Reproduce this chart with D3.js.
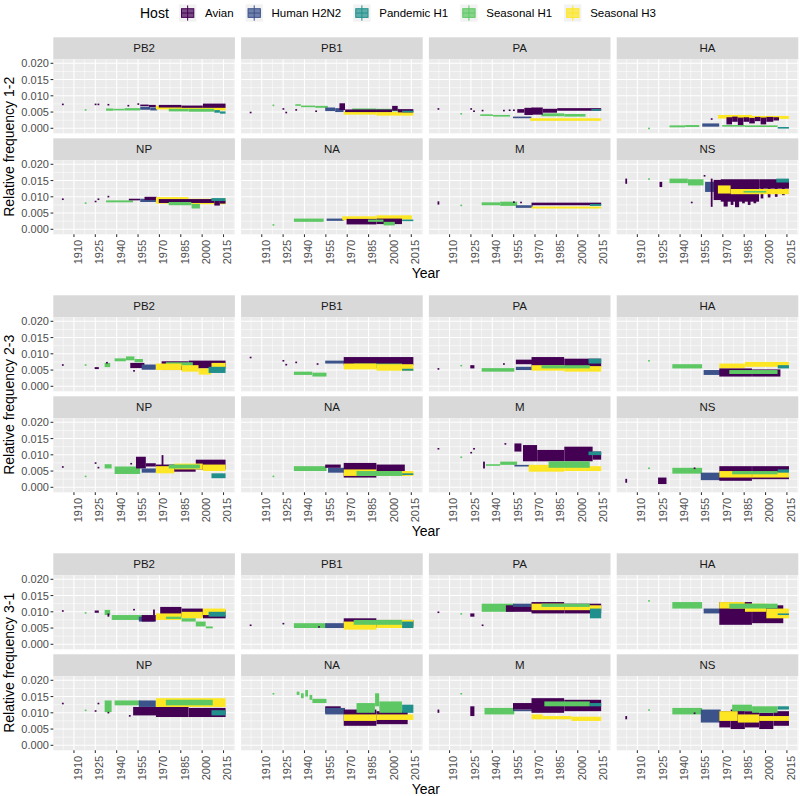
<!DOCTYPE html>
<html><head><meta charset="utf-8">
<script src="https://cdn.jsdelivr.net/npm/d3@7"></script>
<style>body{margin:0;background:#fff} text{font-family:"Liberation Sans", Arial, sans-serif}</style>
</head><body><svg id="c" width="800" height="796"></svg>
<script>
const hosts = ["Avian","Human H2N2","Pandemic H1","Seasonal H1","Seasonal H3"];
const hostColors = ["#440154","#3B528B","#21908C","#5DC863","#FDE725"];
const segments = ["PB2","PB1","PA","HA","NP","NA","M","NS"];
const groupLabels = ["1-2","2-3","3-1"];
const yearTicks = [1910,1925,1940,1955,1970,1985,2000,2015];
const freqTicks = [0,0.005,0.010,0.015,0.020];
const freqLabels = ["0.000","0.005","0.010","0.015","0.020"];

// runs: [hostIndex, firstYear, lastYear, low, high]  (relative frequency x 1e-3)
const PB2_12 = [[0,1902,1902,7.4,7.6],[0,1925,1925,7.4,7.6],[0,1927,1927,7.4,7.6],[0,1934,1934,7.3,7.5],[0,1948,1948,7.0,7.2],[0,1955,1955,7.5,7.7],
 [3,1918,1918,5.7,5.9],[3,1933,1937,5.4,6.1],[3,1938,1945,5.6,6.0],[3,1946,1956,5.5,6.2],
 [0,1957,1962,6.8,7.3],[0,1963,1967,6.5,7.2],[1,1957,1963,5.7,6.6],[1,1964,1968,5.5,6.4],
 [4,1968,1980,5.8,6.9],[4,1981,1995,5.6,6.8],[4,1996,2016,5.5,6.6],
 [0,1970,1985,6.4,7.2],[0,1986,2000,6.3,7.0],[0,2001,2016,6.3,7.6],
 [3,1977,1990,5.2,6.0],[3,1991,2008,5.1,6.0],[2,2009,2012,4.8,5.6],[2,2013,2016,4.5,5.2]];
const PB1_12 = [[0,1902,1902,4.9,5.1],[3,1918,1918,7.1,7.3],[0,1925,1925,6.0,6.2],[0,1927,1927,4.9,5.1],[0,1934,1934,5.7,5.9],
 [3,1934,1937,7.0,7.4],[3,1938,1947,6.5,7.0],[3,1948,1956,6.3,6.9],[0,1948,1948,5.3,5.5],
 [1,1955,1961,5.3,6.4],[1,1962,1967,5.0,6.2],[0,1965,1968,5.6,7.7],
 [4,1968,1990,4.2,5.2],[4,1991,2016,3.9,5.0],[3,1974,1990,5.3,6.1],[3,1991,2006,5.2,6.0],
 [0,1969,2001,5.0,5.8],[0,2002,2005,5.4,6.9],[0,2006,2016,4.9,5.9],[2,2009,2016,4.9,5.4]];
const PA_12 = [[0,1902,1902,6.0,6.2],[3,1918,1918,4.5,4.7],[0,1925,1925,6.0,6.2],[0,1927,1927,5.3,5.5],[0,1933,1933,5.5,5.7],
 [3,1932,1940,3.8,4.3],[3,1941,1952,3.6,4.1],[0,1948,1948,5.5,5.7],[0,1952,1952,5.6,5.8],[0,1955,1955,5.6,5.8],
 [1,1955,1967,3.1,3.6],[0,1958,1962,4.8,5.9],[0,1963,1968,4.1,6.3],[4,1967,2016,2.3,3.1],
 [3,1975,1990,3.7,4.6],[3,1991,2005,3.6,4.4],
 [0,1968,1975,4.2,6.4],[0,1976,1985,4.8,6.0],[0,1986,2016,5.4,6.2],[2,2010,2016,5.4,5.9]];
const HA_12 = [[3,1918,1918,0.0,0.2],[3,1933,1943,0.3,0.9],[3,1944,1953,0.4,1.0],[1,1956,1967,0.5,1.5],[0,1962,1962,2.9,3.1],
 [4,1967,1990,3.0,4.1],[4,1991,2016,2.9,3.8],
 [0,1973,1976,1.2,3.4],[0,1977,1980,2.0,3.6],[0,1981,1984,1.0,3.3],[0,1985,1988,2.0,3.4],[0,1989,1992,1.5,3.2],
 [0,1993,1996,2.2,3.5],[0,1997,2000,1.2,3.3],[0,2001,2005,2.0,3.5],[0,2006,2009,2.4,3.4],
 [3,1970,1985,0.5,1.0],[3,1986,2008,0.4,0.9],[2,2009,2016,0.1,0.4]];
const NP_12 = [[0,1902,1902,9.3,9.5],[3,1918,1918,8.1,8.3],[0,1925,1925,8.6,8.8],[0,1927,1927,9.3,9.5],[0,1934,1934,10.1,10.3],
 [3,1933,1951,8.3,8.9],[0,1949,1956,9.0,9.4],[1,1957,1968,8.4,9.4],[0,1960,1968,9.0,10.0],
 [4,1968,1990,7.9,9.9],[4,1991,2016,7.7,9.4],
 [0,1970,2008,8.1,9.3],[0,2009,2012,7.3,8.8],[0,2013,2016,7.9,8.8],
 [3,1977,1992,7.4,8.4],[3,1993,1998,6.4,7.8],[2,2007,2016,8.7,9.6]];
const NA_12 = [[3,1918,1918,1.4,1.6],[3,1933,1953,2.3,3.3],[1,1956,1967,2.6,3.3],
 [4,1967,1990,2.8,4.0],[4,1991,2015,3.0,4.3],[0,1970,1990,1.5,3.2],[0,1991,2008,1.6,3.3],
 [3,1985,1995,2.3,3.0],[3,1996,2003,1.2,2.3],[2,2009,2016,2.6,3.0]];
const M_12 = [[0,1902,1902,7.6,8.6],[3,1918,1918,7.4,7.6],[3,1933,1945,7.4,8.3],[3,1946,1957,7.2,8.5],[0,1955,1955,8.4,8.6],[0,1960,1960,8.3,8.5],
 [1,1957,1968,6.6,7.4],[0,1968,2016,7.4,8.2],[4,1968,2016,6.4,7.0],[2,2009,2016,7.2,7.8]];
const NS_12 = [[0,1902,1902,14.0,15.6],[3,1918,1918,15.5,15.7],[0,1926,1927,13.0,14.6],[3,1933,1945,14.2,15.6],[3,1946,1956,13.5,15.4],[0,1948,1948,8.3,8.5],[0,1957,1957,16.5,16.7],
 [1,1958,1967,11.5,14.6],[0,1962,1962,6.9,15.6],[0,1964,1969,9.0,15.2],[0,1969,1995,8.5,15.4],[0,1996,2016,12.5,15.4],
 [0,1971,1973,7.0,15.0],[0,1976,1977,7.5,15.0],[0,1979,1981,6.8,15.0],[0,1984,1985,8.0,15.0],[0,1988,1989,7.5,15.0],
 [0,1992,1993,8.0,15.0],[0,1997,1998,9.5,15.0],[0,2002,2003,9.8,15.0],[0,2007,2008,10.0,15.0],[0,2012,2013,10.5,15.0],
 [4,1967,1975,11.0,13.5],[4,1976,2016,10.8,12.4],[3,1985,2000,11.3,11.8],[2,2008,2016,14.4,15.6]];

const PB2_23 = [[0,1902,1902,6.6,6.8],[3,1918,1918,6.6,6.8],[0,1925,1927,5.3,5.9],[3,1932,1935,5.9,7.2],[0,1933,1933,7.3,7.5],
 [3,1939,1946,7.7,8.6],[3,1947,1952,8.0,9.2],[0,1952,1952,4.8,5.0],[3,1953,1958,7.4,8.4],[0,1950,1959,5.6,7.2],
 [1,1958,1967,5.1,6.7],[0,1972,1990,5.0,7.7],[0,1991,2016,5.5,7.9],[3,1975,1993,6.2,7.4],
 [4,1968,1985,5.0,7.0],[4,1986,1997,4.5,6.5],[4,1998,2006,3.6,5.5],[4,2007,2016,5.5,7.2],[2,2005,2016,4.1,6.0]];
const PB1_23 = [[0,1902,1902,8.9,9.1],[0,1925,1925,7.9,8.1],[0,1927,1927,6.7,6.9],[0,1934,1934,7.4,7.6],
 [3,1933,1945,3.5,4.5],[3,1946,1955,3.0,4.2],[0,1949,1949,6.9,7.1],[1,1955,1968,7.0,7.9],
 [0,1968,2016,6.5,9.0],[3,1975,2008,5.5,7.0],[4,1968,1990,5.2,7.0],[4,1991,2016,4.8,6.8],[2,2009,2016,4.8,5.4]];
const PA_23 = [[0,1902,1902,5.4,5.6],[3,1918,1918,6.4,6.6],[0,1925,1927,5.5,6.5],[3,1933,1955,4.5,5.6],[0,1948,1948,6.9,7.1],
 [1,1957,1968,5.0,6.0],[0,1957,1968,6.8,8.2],[0,1968,1990,6.0,9.0],[0,1991,2016,6.0,8.5],
 [4,1968,1990,4.8,6.5],[4,1991,2016,4.5,6.2],[3,1975,2008,5.5,6.5],[2,2008,2016,7.0,8.5]];
const HA_23 = [[3,1918,1918,7.9,8.1],[3,1935,1955,5.5,6.8],[1,1957,1968,3.5,5.0],
 [4,1968,1985,5.5,7.0],[4,1986,2016,6.0,7.5],[0,1968,1990,3.0,5.5],[0,1991,2010,3.0,5.2],
 [3,1975,2008,3.8,5.0],[2,2009,2016,5.5,6.5]];
const NP_23 = [[0,1902,1902,6.3,6.5],[3,1918,1918,3.4,3.6],[0,1925,1925,7.5,7.7],[0,1927,1927,6.1,6.3],[3,1932,1936,5.8,7.1],[3,1939,1956,4.1,6.4],[0,1950,1950,7.3,7.5],
 [0,1954,1960,5.8,9.4],[1,1958,1967,4.5,5.8],[0,1961,1967,6.4,7.4],[0,1972,1972,6.4,9.9],
 [0,1968,1995,4.8,7.0],[0,1996,2016,5.5,8.5],[4,1968,1980,4.3,6.5],[4,1981,2000,5.5,7.3],[4,2001,2016,5.0,7.0],
 [3,1977,1998,5.8,7.0],[2,2007,2016,2.8,4.3]];
const NA_23 = [[3,1918,1918,3.4,3.6],[3,1933,1955,5.0,6.5],[1,1957,1968,4.5,6.0],[0,1955,1965,6.0,7.0],
 [0,1968,1990,3.0,7.5],[0,1991,2010,3.5,7.0],[4,1968,1990,3.5,5.5],[4,1991,2016,3.5,5.0],
 [3,1977,2008,3.5,5.0],[2,2009,2016,3.8,4.3]];
const M_23 = [[0,1902,1902,11.9,12.1],[3,1918,1918,9.3,9.5],[0,1925,1925,10.7,10.9],[0,1927,1927,11.9,12.1],[0,1934,1934,5.8,7.9],[3,1936,1945,6.7,7.1],[3,1946,1957,6.9,7.9],
 [0,1949,1949,13.4,13.6],[0,1956,1960,11.0,13.5],[1,1956,1966,6.4,6.9],[0,1962,1971,8.0,13.0],
 [0,1972,1990,8.0,11.5],[0,1991,2010,8.0,12.5],[0,2011,2016,8.5,11.0],
 [4,1966,1990,4.8,6.9],[4,1991,2016,5.0,6.5],[3,1980,2008,6.0,8.0],[2,2008,2016,9.9,11.0]];
const NS_23 = [[0,1902,1902,1.4,2.6],[3,1918,1918,5.9,6.1],[0,1925,1930,1.0,3.0],[3,1935,1955,4.2,6.0],[0,1950,1950,5.9,6.1],
 [1,1955,1968,2.2,4.5],[0,1968,1990,2.0,6.5],[0,1991,2016,2.5,6.5],
 [4,1968,1990,3.0,5.0],[4,1991,2016,3.0,4.8],[3,1977,2008,4.0,5.0],[2,2009,2016,4.5,5.5]];

const PB2_31 = [[0,1902,1902,10.3,10.5],[3,1918,1918,9.7,9.9],[0,1925,1927,9.7,10.4],[3,1932,1935,9.0,10.6],[0,1934,1934,8.5,9.5],
 [3,1937,1958,7.5,9.0],[0,1952,1952,10.7,10.9],[1,1956,1966,7.0,8.5],[0,1958,1967,7.0,9.0],[0,1966,1966,9.0,10.7],
 [0,1971,1985,8.5,11.5],[0,1986,2000,8.5,11.0],[0,2001,2016,8.0,10.5],
 [4,1968,1985,7.5,9.5],[4,1986,2000,8.0,10.0],[4,2001,2016,9.0,11.0],
 [3,1975,1985,7.8,8.5],[3,1986,1995,7.0,8.0],[3,1996,2002,5.5,7.0],[3,2003,2007,4.9,5.5],[2,2005,2016,8.5,10.0]];
const PB1_31 = [[0,1902,1902,5.9,6.1],[0,1925,1925,6.4,6.6],[3,1933,1955,5.0,6.5],[0,1950,1950,5.4,5.6],
 [1,1955,1968,5.0,6.5],[0,1968,1990,5.0,8.0],[0,1991,2016,5.5,7.5],
 [4,1968,1990,4.5,7.0],[4,1991,2016,5.0,7.5],[3,1975,2008,6.0,7.5],[2,2009,2016,5.0,7.0]];
const PA_31 = [[0,1902,1902,9.9,10.1],[3,1918,1918,9.4,9.6],[0,1925,1927,8.5,9.5],[0,1933,1933,5.9,6.1],
 [3,1933,1955,10.0,12.5],[0,1950,1968,10.0,12.0],[1,1955,1968,11.5,12.5],
 [0,1968,1990,9.5,13.0],[0,1991,2016,9.5,12.5],[4,1968,1990,10.5,12.5],[4,1991,2016,10.5,12.0],
 [3,1975,2008,11.5,12.5],[2,2009,2016,8.0,11.0]];
const HA_31 = [[3,1918,1918,13.4,13.6],[3,1935,1955,11.0,13.0],[1,1957,1968,9.5,11.0],
 [0,1968,1990,6.0,13.0],[0,1991,2012,6.5,12.0],
 [4,1968,1985,11.0,13.0],[4,1986,2000,10.0,12.5],[4,2001,2016,8.0,11.0],
 [3,1975,2008,11.0,12.5],[2,2009,2016,9.0,9.5]];
const NP_31 = [[0,1902,1902,12.9,13.1],[3,1918,1918,10.8,11.0],[0,1925,1925,10.6,10.8],[0,1927,1927,12.9,13.1],[3,1932,1936,10.2,13.8],[0,1934,1934,10.1,10.3],
 [3,1939,1956,12.3,13.8],[0,1949,1949,9.1,9.3],[0,1952,1968,9.2,11.8],[1,1956,1967,11.8,13.8],
 [0,1968,1990,8.7,11.8],[0,1991,2016,8.7,11.5],[4,1968,2016,11.8,14.5],[3,1975,2007,12.3,14.0],[2,2007,2016,9.2,10.8]];
const NA_31 = [[3,1918,1918,15.9,16.1],[3,1935,1936,15.5,16.5],[3,1938,1939,14.5,16.0],[3,1941,1942,15.0,17.0],[3,1944,1945,14.0,15.5],[3,1946,1955,13.0,14.3],[0,1955,1965,10.0,12.0],
 [1,1955,1968,9.5,11.5],[0,1968,1990,6.0,11.0],[0,1991,2012,6.5,10.5],
 [4,1968,1990,7.5,9.5],[4,1991,2016,7.8,9.5],
 [3,1977,1989,10.0,13.0],[3,1990,1992,12.0,16.0],[3,1993,2008,10.0,13.5],[2,2009,2016,10.0,12.5]];
const M_31 = [[0,1902,1902,10.0,11.0],[3,1918,1918,15.9,16.1],[0,1925,1927,9.0,12.0],[3,1935,1955,9.5,11.5],
 [1,1955,1968,10.5,11.0],[0,1955,1968,11.0,13.0],[0,1968,1990,10.0,14.5],[0,1991,2016,10.5,14.0],
 [4,1968,1975,8.0,9.5],[4,1976,1995,8.0,9.0],[4,1996,2016,7.5,8.8],
 [3,1977,2008,12.0,13.5],[2,2009,2016,12.0,13.0]];
const NS_31 = [[0,1902,1902,8.0,9.0],[3,1918,1918,10.9,11.1],[3,1935,1955,9.5,11.5],[0,1950,1950,9.9,10.1],
 [1,1955,1968,7.0,11.0],[0,1968,1975,5.5,10.5],[0,1976,1985,5.0,11.0],[0,1986,1995,5.5,10.5],[0,1996,2005,5.0,10.0],[0,2006,2016,6.0,10.5],
 [4,1968,1980,7.5,10.5],[4,1981,1995,7.0,9.5],[4,1996,2016,7.5,9.0],
 [3,1977,1990,10.5,12.5],[3,1991,2008,10.0,12.0],[2,2009,2016,11.0,12.0]];

const groupData = [
  [PB2_12,PB1_12,PA_12,HA_12,NP_12,NA_12,M_12,NS_12],
  [PB2_23,PB1_23,PA_23,HA_23,NP_23,NA_23,M_23,NS_23],
  [PB2_31,PB1_31,PA_31,HA_31,NP_31,NA_31,M_31,NS_31]
];

// ---- layout ----
const svg = d3.select("#c");
const panelX0 = 53.3, colStep = 187.8, panelW = 181.6;
const stripH = 22, panelH = 74, rowGap = 5, groupStep = 258, groupTop0 = 37.3;
const x = d3.scaleLinear().domain([1895.5, 2023]).range([0, panelW]);
const y = d3.scaleLinear().domain([-0.001538, 0.021231]).range([panelH, 0]);
const xMinor = d3.range(1902.5, 2023, 15).filter(v => v > 1895.5 && v < 2023);
const yMinor = [0.0025, 0.0075, 0.0125, 0.0175];
const defs = svg.append("defs");
defs.append("clipPath").attr("id","pclip").append("rect").attr("width",panelW).attr("height",panelH);

groupData.forEach((segs, g) => {
  const gTop = groupTop0 + g*groupStep;
  segs.forEach((runs, si) => {
    const r = Math.floor(si/4), c = si % 4;
    const sx = panelX0 + c*colStep;
    const sTop = gTop + r*(stripH+panelH+rowGap);
    const pTop = sTop + stripH;
    svg.append("rect").attr("x",sx).attr("y",sTop).attr("width",panelW).attr("height",stripH).attr("fill","#d9d9d9");
    svg.append("text").attr("x",sx+panelW/2).attr("y",sTop+stripH/2).attr("dy","0.36em")
      .attr("text-anchor","middle").attr("font-size",11.5).attr("fill","#1a1a1a").text(segments[si]);
    const p = svg.append("g").attr("transform",`translate(${sx},${pTop})`);
    p.append("rect").attr("width",panelW).attr("height",panelH).attr("fill","#ebebeb");
    p.selectAll(".ymn").data(yMinor).join("line").attr("x1",0).attr("x2",panelW)
      .attr("y1",d=>y(d)).attr("y2",d=>y(d)).attr("stroke","#fff").attr("stroke-width",0.53);
    p.selectAll(".xmn").data(xMinor).join("line").attr("y1",0).attr("y2",panelH)
      .attr("x1",d=>x(d)).attr("x2",d=>x(d)).attr("stroke","#fff").attr("stroke-width",0.53);
    p.selectAll(".ymj").data(freqTicks).join("line").attr("x1",0).attr("x2",panelW)
      .attr("y1",d=>y(d)).attr("y2",d=>y(d)).attr("stroke","#fff").attr("stroke-width",1.07);
    p.selectAll(".xmj").data(yearTicks).join("line").attr("y1",0).attr("y2",panelH)
      .attr("x1",d=>x(d)).attr("x2",d=>x(d)).attr("stroke","#fff").attr("stroke-width",1.07);
    const dg = p.append("g").attr("clip-path","url(#pclip)");
    dg.selectAll("rect.d").data(runs).join("rect").attr("class","d")
      .attr("x", d => x(d[1]-0.45))
      .attr("width", d => Math.max(1.8, x(d[2]+0.45)-x(d[1]-0.45)))
      .attr("y", d => y(d[4]/1000))
      .attr("height", d => Math.max(1.6, y(d[3]/1000)-y(d[4]/1000)))
      .attr("fill", d => hostColors[d[0]]);
    if (c === 0) {
      freqTicks.forEach((t,i) => {
        svg.append("line").attr("x1",sx-2.75).attr("x2",sx).attr("y1",pTop+y(t)).attr("y2",pTop+y(t))
          .attr("stroke","#333").attr("stroke-width",1.07);
        svg.append("text").attr("x",sx-4.4).attr("y",pTop+y(t)).attr("dy","0.36em").attr("text-anchor","end")
          .attr("font-size",11).attr("fill","#4d4d4d").text(freqLabels[i]);
      });
    }
    if (r === 1) {
      const pb = pTop + panelH;
      yearTicks.forEach(t => {
        svg.append("line").attr("x1",sx+x(t)).attr("x2",sx+x(t)).attr("y1",pb).attr("y2",pb+2.75)
          .attr("stroke","#333").attr("stroke-width",1.07);
        svg.append("text").attr("transform",`translate(${sx+x(t)},${pb+5.5}) rotate(-90)`)
          .attr("dy","0.72em").attr("text-anchor","end").attr("font-size",11).attr("fill","#4d4d4d").text(t);
      });
    }
  });
  const p1Top = gTop + stripH, p2Bot = gTop + 2*(stripH+panelH) + rowGap;
  svg.append("text").attr("transform",`translate(14,${(p1Top+p2Bot)/2}) rotate(-90)`)
    .attr("text-anchor","middle").attr("font-size",14).attr("fill","#000").text("Relative frequency " + groupLabels[g]);
  svg.append("text").attr("x", panelX0 + (3*colStep+panelW)/2).attr("y", p2Bot+43.5)
    .attr("text-anchor","middle").attr("font-size",14).attr("fill","#000").text("Year");
});

// ---- legend ----
const lg = svg.append("g");
lg.append("text").attr("x",140).attr("y",13).attr("dy","0.36em").attr("font-size",14).attr("fill","#000").text("Host");
let lx = 179;
const ks = 17.3, kyTop = 4.4;
hosts.forEach((h,i) => {
  const k = lg.append("g").attr("transform",`translate(${lx},${kyTop})`);
  k.append("rect").attr("width",ks).attr("height",ks).attr("fill","#f2f2f2");
  k.append("line").attr("x1",ks/2).attr("x2",ks/2).attr("y1",1).attr("y2",ks-1).attr("stroke",hostColors[i]).attr("stroke-width",1);
  k.append("rect").attr("x",2.5).attr("y",ks*0.25).attr("width",ks-5).attr("height",ks*0.5)
    .attr("fill",hostColors[i]).attr("fill-opacity",0.7).attr("stroke",hostColors[i]).attr("stroke-width",1);
  k.append("line").attr("x1",2.5).attr("x2",ks-2.5).attr("y1",ks/2).attr("y2",ks/2).attr("stroke",hostColors[i]).attr("stroke-width",1);
  const t = lg.append("text").attr("x",lx+ks+8.7).attr("y",13).attr("dy","0.36em").attr("font-size",11.5).attr("fill","#000").text(h);
  lx += ks + 8.7 + t.node().getComputedTextLength() + 12;
});
</script></body></html>
